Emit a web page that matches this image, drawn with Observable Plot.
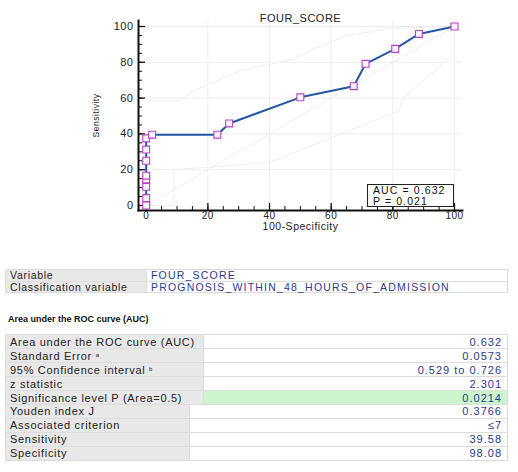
<!DOCTYPE html>
<html>
<head>
<meta charset="utf-8">
<script src="https://cdn.jsdelivr.net/npm/d3@7"></script>
<script src="https://cdn.jsdelivr.net/npm/@observablehq/plot@0.6"></script>
<style>
  html, body { margin: 0; padding: 0; background: #fff; }
  body { width: 518px; height: 472px; position: relative; overflow: hidden; font-family: "Liberation Sans", Arial, sans-serif; }
  #chart { position: absolute; left: 0; top: 0; }
  #aucbox { position: absolute; left: 367px; top: 184px; width: 80px; height: 21px; border: 1.5px solid #222; background: #fff;
            font-size: 10.5px; line-height: 10.5px; letter-spacing: 1.1px; padding: 0 0 0 5px; color: #111; overflow: hidden; }
  table { border-collapse: collapse; position: absolute; left: 5px; width: 503px; table-layout: fixed; }
  td { border: 1px solid #dcdcdc; padding: 0 4px; white-space: nowrap; overflow: hidden; }
  td.lab { background: #e8e8e8; color: #222; }
  td.val { background: #fff; color: #2b3a8c; }
  td.num { text-align: right; padding-right: 5px; }
  td.green { background: #cdf5cd; }
  #t1 td { height: 10.3px; line-height: 10.5px; font-size: 10.5px; overflow: visible; }
  #t1 td.lab { letter-spacing: 0.7px; }
  #t1 td.val { letter-spacing: 1.2px; }
  #t2 td, #t3 td { font-size: 11px; line-height: 12px; }
  #t2 td { height: 13.1px; }
  #t3 td { height: 12.9px; }
  #t2 td.lab, #t3 td.lab { letter-spacing: 0.7px; }
  #t2 td.val, #t3 td.val { letter-spacing: 1px; }
  #auctitle { position: absolute; left: 8px; top: 314px; font-size: 9px; font-weight: bold; color: #111; }
  sup { font-size: 6px; vertical-align: 3px; letter-spacing: 0; }
  g[aria-label="ylabel"] text { letter-spacing: 0; }
</style>
</head>
<body>
<div id="chart"></div>
<div id="aucbox"></div>
<table id="t1" style="top:269px"></table>
<div id="auctitle">Area under the ROC curve (AUC)</div>
<table id="t2" style="top:334px"></table>
<table id="t3" style="top:404px"></table>
<script>
// ROC curve points (100-Specificity, Sensitivity)
const fpr = [0, 0, 0, 0, 0, 0, 0, 0, 1.92, 23.08, 26.92, 50, 67.31, 71.15, 80.77, 88.46, 100];
const tpr = [0, 4.17, 10.42, 14.58, 16.67, 25, 31.25, 37.5, 39.58, 39.58, 45.83, 60.42, 66.67, 79.17, 87.5, 95.83, 100];
// faint confidence bounds
const ciUpperX = [0, 11, 14, 30, 48, 55, 65, 80, 100];
const ciUpperY = [58.5, 58.5, 63, 75, 82, 88, 95, 99, 100];
const ciLowerX = [0, 9, 9, 40, 50, 82, 83.5, 100];
const ciLowerY = [0, 0, 20, 24, 31, 53, 60, 85];
const diagX = [0, 100];
const diagY = [0, 100];
const majorTicks = [0, 20, 40, 60, 80, 100];
const minorTicks = d3.range(0, 101, 5);
const chartTitle = "FOUR_SCORE";
const xLabel = "100-Specificity";
const yLabel = "Sensitivity";
const aucText = ["AUC = 0.632", "P = 0.021"];

// tables
const varLabels = ["Variable", "Classification variable"];
const varValues = ["FOUR_SCORE", "PROGNOSIS_WITHIN_48_HOURS_OF_ADMISSION"];
const aucLabels = ["Area under the ROC curve (AUC)", "Standard Error", "95% Confidence interval", "z statistic", "Significance level P (Area=0.5)"];
const aucSups = ["", "a", "b", "", ""];
const aucValues = ["0.632", "0.0573", "0.529 to 0.726", "2.301", "0.0214"];
const youdenLabels = ["Youden index J", "Associated criterion", "Sensitivity", "Specificity"];
const youdenValues = ["0.3766", "\u22647", "39.58", "98.08"];

const roc = fpr.map((x, i) => ({x, y: tpr[i]}));
const up = ciUpperX.map((x, i) => ({x, y: ciUpperY[i]}));
const lo = ciLowerX.map((x, i) => ({x, y: ciLowerY[i]}));
const dg = diagX.map((x, i) => ({x, y: diagY[i]}));

const plot = Plot.plot({
  width: 518, height: 240,
  marginLeft: 138, marginRight: 56, marginTop: 20, marginBottom: 30,
  style: {fontFamily: "Liberation Sans, Arial, sans-serif", fontSize: "10px", color: "#222", background: "#fff", letterSpacing: "0.5px"},
  x: {domain: [0, 100], insetLeft: 7.7, insetRight: 8, label: null},
  y: {domain: [0, 100], insetBottom: 5, insetTop: 6, label: null},
  marks: [
    Plot.gridX(majorTicks.slice(1), {stroke: "#eeeeee", strokeOpacity: 1}),
    Plot.gridY(majorTicks.slice(1), {stroke: "#eeeeee", strokeOpacity: 1}),
    Plot.line(dg, {x: "x", y: "y", stroke: "#eeeeee", strokeWidth: 1}),
    Plot.line(up, {x: "x", y: "y", stroke: "#eeeeee", strokeWidth: 1}),
    Plot.line(lo, {x: "x", y: "y", stroke: "#eeeeee", strokeWidth: 1}),
    Plot.frame({anchor: "left", stroke: "#111", strokeWidth: 2}),
    Plot.frame({anchor: "bottom", stroke: "#111", strokeWidth: 2}),
    Plot.axisY(minorTicks, {tickSize: -4, tickFormat: () => "", label: null, stroke: "#111"}),
    Plot.axisY(majorTicks, {tickSize: -7, tickFormat: () => "", label: null, stroke: "#111", strokeWidth: 1.3}),
    Plot.axisY(majorTicks, {tickSize: 0, tickPadding: 5, label: null, fontSize: 11, fill: "#222"}),
    Plot.axisX(minorTicks, {tickSize: -4, tickFormat: () => "", label: null, stroke: "#111"}),
    Plot.axisX(majorTicks, {tickSize: -7, tickFormat: () => "", label: null, stroke: "#111", strokeWidth: 1.3}),
    Plot.axisX(majorTicks, {tickSize: 0, tickPadding: 1, label: null, fontSize: 10, fill: "#222"}),
    Plot.line(roc, {x: "x", y: "y", stroke: "#2457a3", strokeWidth: 2}),
    Plot.dot(roc, {x: "x", y: "y", symbol: "square", r: 3.9, stroke: "#b543c4", strokeWidth: 1.1, fill: "#fbf2fb"}),
    Plot.text([chartTitle], {text: d => d, frameAnchor: "top", dy: -6, fontSize: 11, fill: "#222"}),
    Plot.text([xLabel], {text: d => d, frameAnchor: "bottom", dy: 19, fontSize: 10.5, fill: "#222"}),
    Plot.text([yLabel], {text: d => d, ariaLabel: "ylabel", frameAnchor: "left", textAnchor: "middle", dx: -42, rotate: -90, fontSize: 8.5, fill: "#222"})
  ]
});
document.getElementById("chart").appendChild(plot);
document.getElementById("aucbox").innerHTML = aucText.join("<br>");

const t1 = document.getElementById("t1");
t1.innerHTML = varLabels.map((l, i) =>
  `<tr><td class="lab" style="width:132px">${l}</td><td class="val">${varValues[i]}</td></tr>`).join("");
const t2 = document.getElementById("t2");
t2.innerHTML = aucLabels.map((l, i) =>
  `<tr><td class="lab" style="width:189px">${l}${aucSups[i] ? " <sup>" + aucSups[i] + "</sup>" : ""}</td><td class="val num${i === 4 ? " green" : ""}">${aucValues[i]}</td></tr>`).join("");
const t3 = document.getElementById("t3");
t3.innerHTML = youdenLabels.map((l, i) =>
  `<tr><td class="lab" style="width:175px">${l}</td><td class="val num">${youdenValues[i]}</td></tr>`).join("");
</script>
</body>
</html>
